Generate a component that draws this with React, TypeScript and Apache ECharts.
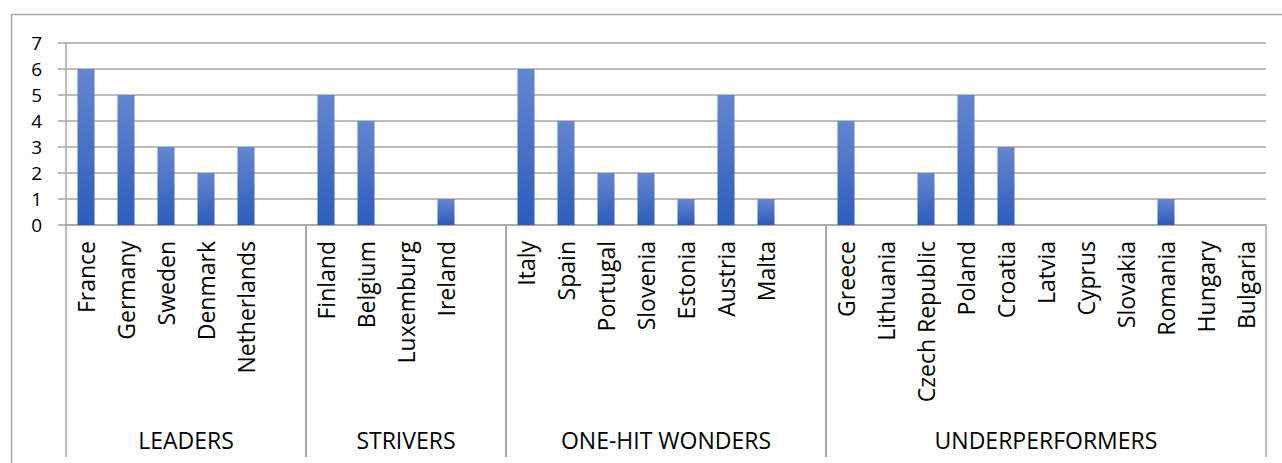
import React, { useEffect, useRef } from "react";
import * as echarts from "echarts";

const categories = [
  "France", "Germany", "Sweden", "Denmark", "Netherlands", " ",
  "Finland", "Belgium", "Luxemburg", "Ireland", "  ",
  "Italy", "Spain", "Portugal", "Slovenia", "Estonia", "Austria", "Malta", "   ",
  "Greece", "Lithuania", "Czech Republic", "Poland", "Croatia", "Latvia", "Cyprus",
  "Slovakia", "Romania", "Hungary", "Bulgaria",
];
const values = [
  6, 5, 3, 2, 3, null,
  5, 4, 0, 1, null,
  6, 4, 2, 2, 1, 5, 1, null,
  4, 0, 2, 5, 3, 0, 0, 0, 1, 0, 0,
];
const groupNames = ["LEADERS", "STRIVERS", "ONE-HIT WONDERS", "UNDERPERFORMERS"];
const groupSizes = [6, 5, 8, 11];
const yTicks = [0, 1, 2, 3, 4, 5, 6, 7];

const FONT = "'Open Sans', sans-serif";
const GRAY = "#a6a6a6";

export default function App() {
  const ref = useRef<HTMLDivElement>(null);
  useEffect(() => {
    if (!ref.current) return;
    const chart = echarts.init(ref.current, null, { renderer: "svg" });
    const groupData: any[] = [];
    let start = 0;
    groupSizes.forEach((s, i) => {
      groupData.push({ name: groupNames[i], value: [start, s] });
      start += s;
    });
    chart.setOption({
      animation: false,
      backgroundColor: "#ffffff",
      grid: { left: 66, right: 16, top: 43, bottom: 238, containLabel: false },
      graphic: [
        {
          type: "rect",
          shape: { x: 11.5, y: 14.5, width: 1300, height: 500 },
          style: { fill: "none", stroke: GRAY, lineWidth: 1.5 },
          silent: true,
          z: -1,
        },
      ],
      xAxis: {
        type: "category",
        data: categories,
        axisLine: { show: true, lineStyle: { color: GRAY, width: 1.5 } },
        axisTick: { show: false },
        axisLabel: {
          interval: 0,
          rotate: 90,
          margin: 16,
          fontSize: 23,
          lineHeight: 26,
          fontFamily: FONT,
          color: "#000",
        },
        splitLine: { show: false },
      },
      yAxis: {
        type: "value",
        min: yTicks[0],
        max: yTicks[yTicks.length - 1],
        interval: 1,
        axisLine: { show: true, lineStyle: { color: GRAY, width: 1.5 } },
        axisTick: { show: true, length: 8, lineStyle: { color: GRAY, width: 1.5 } },
        axisLabel: {
          margin: 24,
          fontSize: 19,
          lineHeight: 20,
          fontFamily: FONT,
          color: "#000",
        },
        splitLine: { show: true, lineStyle: { color: GRAY, width: 1.5 } },
      },
      series: [
        {
          type: "bar",
          data: values,
          barWidth: 17,
          itemStyle: {
            color: new echarts.graphic.LinearGradient(0, 0, 0, 1, [
              { offset: 0, color: "#6586d0" },
              { offset: 1, color: "#2c5cbc" },
            ]),
          },
        },
        {
          type: "custom",
          clip: false,
          silent: true,
          data: groupData,
          encode: { x: 0 },
          renderItem: (params: any, api: any) => {
            const s = api.value(0);
            const n = api.value(1);
            const bw = api.size([1, 0])[0];
            const p0 = api.coord([s, 0]);
            const p1 = api.coord([s + n - 1, 0]);
            const x0 = p0[0] - bw / 2;
            const x1 = p1[0] + bw / 2;
            const y0 = p0[1];
            const name = groupNames[params.dataIndex];
            return {
              type: "group",
              children: [
                {
                  type: "line",
                  shape: { x1: x0, y1: y0, x2: x0, y2: y0 + 232 },
                  style: { stroke: GRAY, lineWidth: 1.5 },
                },
                {
                  type: "line",
                  shape: { x1: x1, y1: y0, x2: x1, y2: y0 + 232 },
                  style: { stroke: GRAY, lineWidth: 1.5 },
                },
                {
                  type: "text",
                  style: {
                    text: name,
                    x: (x0 + x1) / 2,
                    y: y0 + 215,
                    align: "center",
                    verticalAlign: "middle",
                    fontSize: 23,
                    fontFamily: FONT,
                    fill: "#000",
                  },
                },
              ],
            };
          },
        },
      ],
    });
    return () => chart.dispose();
  }, []);
  return (
    <div
      ref={ref}
      style={{ position: "fixed", left: 0, top: 0, width: 1282, height: 463 }}
    />
  );
}
